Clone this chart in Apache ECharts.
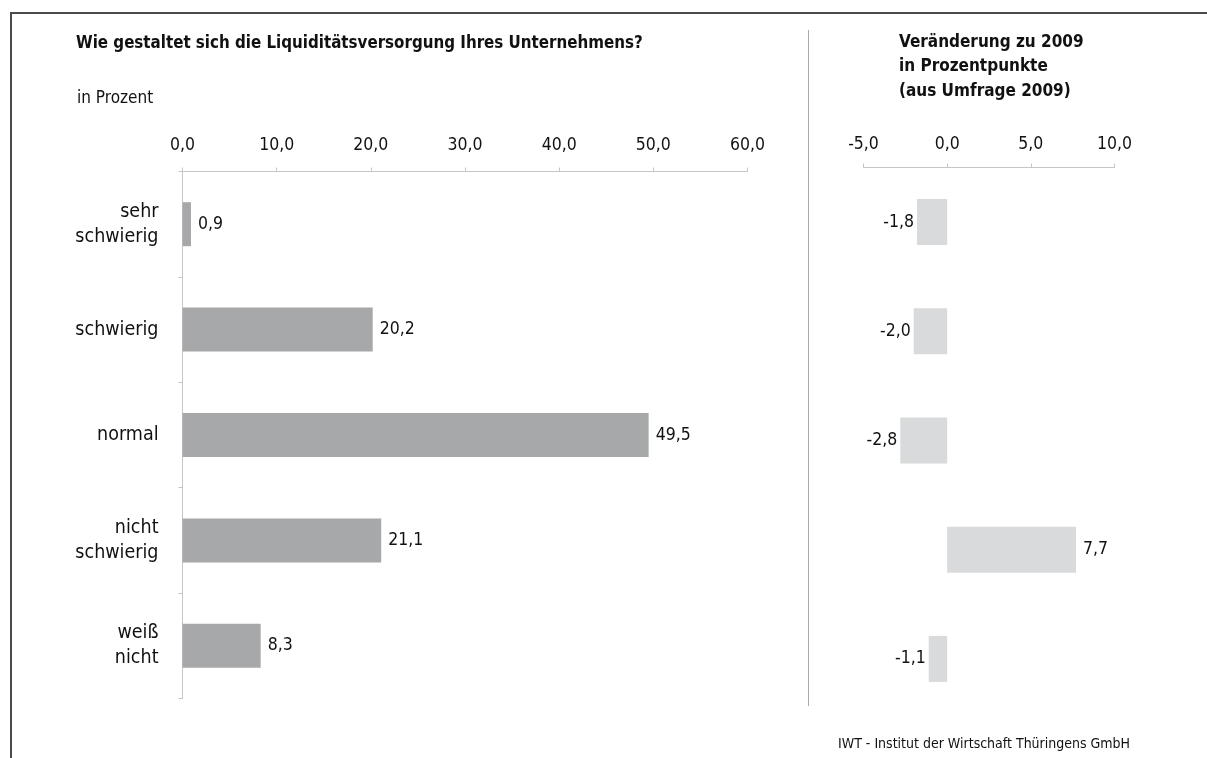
<!DOCTYPE html>
<html><head><meta charset="utf-8">
<script src="https://cdn.jsdelivr.net/npm/echarts@6/dist/echarts.min.js"></script>
<style>html,body{margin:0;padding:0;background:#fff}#c{width:1207px;height:758px}</style>
</head><body><div id="c"></div>
<script>
const categories = ['sehr\nschwierig', 'schwierig', 'normal', 'nicht\nschwierig', 'weiß\nnicht'];
const shares2010 = [0.9, 20.2, 49.5, 21.1, 8.3];
const change2009 = [-1.8, -2.0, -2.8, 7.7, -1.1];
const leftTicks = {min: 0, max: 60, interval: 10};
const rightTicks = {min: -5, max: 10, interval: 5};

const FONT = "'Liberation Sans Narrow','DejaVu Sans Condensed','Liberation Sans',sans-serif";
const fmt = v => (typeof v === 'object' ? v.value : v).toFixed(1).replace('.', ',');
const axisGray = '#c6c6c6';
const NUM = 17.5;

const chart = echarts.init(document.getElementById('c'), null, {renderer: 'canvas'});
chart.setOption({
  backgroundColor: '#fff',
  animation: false,
  textStyle: {fontFamily: FONT},
  title: [
    {text: 'Wie gestaltet sich die Liquiditätsversorgung Ihres Unternehmens?', left: 76, top: 35, padding: 0,
     textStyle: {fontFamily: FONT, fontSize: 16.8, fontWeight: 'bold', color: '#111'}},
    {text: 'in Prozent', left: 77, top: 90, padding: 0,
     textStyle: {fontFamily: FONT, fontSize: 17, fontWeight: 'normal', color: '#111'}},
    {text: 'Veränderung zu 2009\nin Prozentpunkte\n(aus Umfrage 2009)', left: 899, top: 30, padding: 0,
     textStyle: {fontFamily: FONT, fontSize: 17, fontWeight: 'bold', color: '#111', lineHeight: 24.5}},
    {text: 'IWT - Institut der Wirtschaft Thüringens GmbH', left: 838, top: 737, padding: 0,
     textStyle: {fontFamily: FONT, fontSize: 14, fontWeight: 'normal', color: '#111'}}
  ],
  graphic: [
    {type: 'rect', shape: {x: 11, y: 13, width: 1300, height: 900}, style: {fill: 'none', stroke: '#4a4a4a', lineWidth: 2}},
    {type: 'line', shape: {x1: 808.5, y1: 30, x2: 808.5, y2: 706}, style: {stroke: '#aaaaaa', lineWidth: 1}}
  ],
  grid: [
    {left: 182.5, top: 171.5, width: 565, height: 527, containLabel: false},
    {left: 863.5, top: 167.5, width: 251, height: 546, containLabel: false}
  ],
  xAxis: [
    {gridIndex: 0, type: 'value', position: 'top', min: leftTicks.min, max: leftTicks.max, interval: leftTicks.interval,
     axisLine: {show: true, lineStyle: {color: axisGray, width: 1}},
     axisTick: {show: true, length: 4, lineStyle: {color: axisGray}},
     splitLine: {show: false},
     axisLabel: {formatter: fmt, margin: 17, fontFamily: FONT, fontSize: NUM, color: '#111'}},
    {gridIndex: 1, type: 'value', position: 'top', min: rightTicks.min, max: rightTicks.max, interval: rightTicks.interval,
     axisLine: {show: true, lineStyle: {color: axisGray, width: 1}},
     axisTick: {show: true, length: 4, lineStyle: {color: axisGray}},
     splitLine: {show: false},
     axisLabel: {formatter: fmt, margin: 14, fontFamily: FONT, fontSize: NUM, color: '#111'}}
  ],
  yAxis: [
    {gridIndex: 0, type: 'category', data: categories, inverse: true,
     axisLine: {show: true, lineStyle: {color: axisGray, width: 1}},
     axisTick: {show: true, length: 4, lineStyle: {color: axisGray}},
     axisLabel: {margin: 24, fontFamily: FONT, fontSize: 19.5, color: '#111', lineHeight: 25, align: 'right'}},
    {gridIndex: 1, type: 'category', data: categories, inverse: true,
     axisLine: {show: false}, axisTick: {show: false}, axisLabel: {show: false}}
  ],
  series: [
    {type: 'bar', xAxisIndex: 0, yAxisIndex: 0, data: shares2010, barWidth: 44,
     itemStyle: {color: '#a7a8aa'},
     label: {show: true, position: 'right', distance: 7, formatter: p => fmt(p.value),
             fontFamily: FONT, fontSize: NUM, color: '#111'}},
    {type: 'bar', xAxisIndex: 1, yAxisIndex: 1, barWidth: 46,
     data: change2009.map(v => ({value: v, label: {position: v < 0 ? 'left' : 'right', distance: v < 0 ? 3 : 7}})),
     itemStyle: {color: '#d9dadb'},
     label: {show: true, formatter: p => fmt(p.value), fontFamily: FONT, fontSize: NUM, color: '#111'}}
  ]
});
</script></body></html>
